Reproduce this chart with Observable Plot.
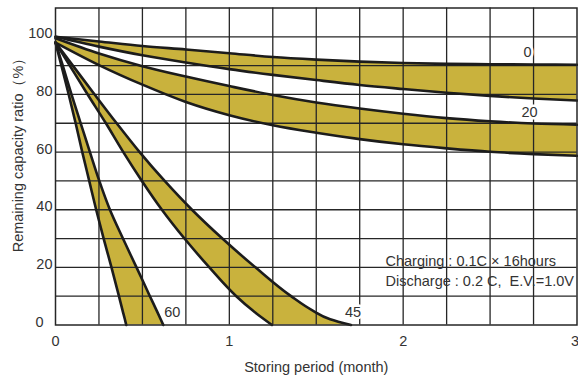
<!DOCTYPE html>
<html>
<head>
<meta charset="utf-8">
<script src="https://cdn.jsdelivr.net/npm/d3@7"></script>
<script src="https://cdn.jsdelivr.net/npm/@observablehq/plot@0.6"></script>
<style>
  html, body { margin: 0; padding: 0; background: #fff; }
  #chart svg { display: block; }
</style>
</head>
<body>
<div id="chart"></div>
<script>
// ---- data ----
const months = [0, 0.25, 0.5, 0.75, 1, 1.25, 1.5, 1.75, 2, 2.25, 2.5, 2.75, 3];
const band0Upper  = [100, 98.4, 96.8, 95.6, 94.3, 93.0, 92.1, 91.4, 90.9, 90.6, 90.5, 90.4, 90.3];
const band0Lower  = [100, 96.6, 93.6, 91.1, 88.8, 86.8, 85.0, 83.3, 81.9, 80.6, 79.5, 78.6, 77.9];
const band20Upper = [99.5, 94.2, 89.8, 86.2, 82.9, 79.8, 77.2, 75.1, 73.3, 71.8, 70.7, 69.9, 69.5];
const band20Lower = [98, 90.2, 83.4, 77.4, 72.8, 69.3, 66.7, 64.5, 62.7, 61.3, 60.1, 59.3, 58.7];

const levels      = [0, 2, 5, 10, 20, 30, 40, 50, 60, 70, 80, 90, 98];
const band60Left  = [0.407, 0.399, 0.386, 0.365, 0.322, 0.277, 0.234, 0.194, 0.154, 0.116, 0.076, 0.034, 0];
const band60Right = [0.62, 0.605, 0.582, 0.543, 0.466, 0.388, 0.313, 0.252, 0.198, 0.145, 0.092, 0.042, 0];
const band45Left  = [1.245, 1.2, 1.135, 1.04, 0.885, 0.742, 0.612, 0.497, 0.39, 0.29, 0.185, 0.082, 0];
const band45Right = [1.70, 1.58, 1.48, 1.355, 1.15, 0.96, 0.785, 0.628, 0.484, 0.352, 0.225, 0.1, 0];

const xGrid = [0.25, 0.5, 0.75, 1, 1.25, 1.5, 1.75, 2, 2.25, 2.5, 2.75];
const yGrid = [10, 20, 30, 40, 50, 60, 70, 80, 90, 100];
const xTicks = [0, 1, 2];
const xLastTick = [3];
const yTicks = [20, 40, 60, 80, 100];
const yZeroTick = [0];
const xTitle = "Storing period (month)";
const yTitle = "Remaining capacity ratio（%）";
const noteLines = ["Charging : 0.1C × 16hours", "Discharge : 0.2 C,  E.V.=1.0V"];

// ---- tables ----
const flat = months.map((m, i) => ({
  m, b0u: band0Upper[i], b0l: band0Lower[i], b20u: band20Upper[i], b20l: band20Lower[i]
}));
const steep = levels.map((v, i) => ({
  v, l60: band60Left[i], r60: band60Right[i], l45: band45Left[i], r45: band45Right[i]
}));
const last = months.length - 2;
const bandLabels = [
  {x: months[last], y: band0Upper[last], text: "0", dx: -6, dy: -12},
  {x: months[last], y: band20Upper[last], text: "20", dx: -4, dy: -11},
  {x: band60Right[0], y: levels[0], text: "60", dx: 9, dy: -13},
  {x: band45Right[0], y: levels[0], text: "45", dx: 2, dy: -13}
];

const FILL = "#c9b23d";
const INK = "#1c1c1c";
const GRID = "#262626";
const TXT = "#333";
const FONT = "Liberation Sans, Arial, Helvetica, sans-serif";

const curveStyle = {stroke: INK, strokeWidth: 2.6};

const chart = Plot.plot({
  width: 578,
  height: 380,
  marginLeft: 55,
  marginRight: 1.5,
  marginTop: 7.5,
  marginBottom: 55.5,
  style: {fontFamily: FONT, fontSize: "14.5px", color: TXT, background: "#fff"},
  x: {domain: [0, 3]},
  y: {domain: [0, 110]},
  marks: [
    // bands (fills)
    Plot.areaY(flat, {x: "m", y1: "b0l", y2: "b0u", fill: FILL, curve: "monotone-x"}),
    Plot.areaY(flat, {x: "m", y1: "b20l", y2: "b20u", fill: FILL, curve: "monotone-x"}),
    Plot.areaX(steep, {y: "v", x1: "l60", x2: "r60", fill: FILL, curve: "monotone-y"}),
    Plot.areaX(steep, {y: "v", x1: "l45", x2: "r45", fill: FILL, curve: "monotone-y"}),
    // grid
    Plot.ruleX(xGrid, {stroke: GRID, strokeWidth: 1.3}),
    Plot.ruleY(yGrid, {stroke: GRID, strokeWidth: 1.3}),
    // curves
    Plot.line(flat, {x: "m", y: "b0u", curve: "monotone-x", ...curveStyle}),
    Plot.line(flat, {x: "m", y: "b0l", curve: "monotone-x", ...curveStyle}),
    Plot.line(flat, {x: "m", y: "b20u", curve: "monotone-x", ...curveStyle}),
    Plot.line(flat, {x: "m", y: "b20l", curve: "monotone-x", ...curveStyle}),
    Plot.line(steep, {x: "l60", y: "v", curve: "monotone-y", ...curveStyle}),
    Plot.line(steep, {x: "r60", y: "v", curve: "monotone-y", ...curveStyle}),
    Plot.line(steep, {x: "l45", y: "v", curve: "monotone-y", ...curveStyle}),
    Plot.line(steep, {x: "r45", y: "v", curve: "monotone-y", ...curveStyle}),
    // band labels
    ...bandLabels.map(d => Plot.text([d], {
      x: "x", y: "y", text: "text", dx: d.dx, dy: d.dy,
      fill: TXT, stroke: "white", strokeWidth: 5, fontSize: 14.5
    })),
    // annotation
    Plot.text([noteLines.join("\n")], {
      frameAnchor: "bottom-right", text: d => d, textAnchor: "start", lineAnchor: "middle",
      lineHeight: 1.36, dx: -191.5, dy: -55, fill: TXT, fontSize: 14.5
    }),
    // frame
    Plot.frame({stroke: GRID, strokeWidth: 1.5}),
    // axes
    Plot.axisX(xTicks, {tickSize: 0, tickPadding: 11, label: null, tickFormat: d => String(d), fill: TXT}),
    Plot.axisX(xLastTick, {tickSize: 0, tickPadding: 11, dx: -2, label: null, tickFormat: d => String(d), fill: TXT}),
    Plot.axisY(yTicks, {tickSize: 0, tickPadding: 3, dy: -3, label: null, tickFormat: d => String(d), fill: TXT}),
    Plot.axisY(yZeroTick, {tickSize: 0, tickPadding: 12, dy: -3, label: null, tickFormat: d => String(d), fill: TXT}),
    // axis titles
    Plot.text([xTitle], {frameAnchor: "bottom", text: d => d, dy: 42, lineAnchor: "middle", fill: TXT, fontSize: 14.5}),
    Plot.text([yTitle], {frameAnchor: "left", text: d => d, rotate: -90, dx: -37, dy: -15,
      textAnchor: "middle", lineAnchor: "middle", fill: TXT, fontSize: 14.5})
  ]
});
document.getElementById("chart").append(chart);

// white background box behind the test-condition note (covers the grid, like the reference)
const noteText = Array.from(chart.querySelectorAll("text")).find(t => t.textContent.includes("Charging"));
if (noteText) {
  const g = noteText.parentNode;
  const bb = g.getBBox();
  const right = 578 - 1.5;
  const rect = document.createElementNS("http://www.w3.org/2000/svg", "rect");
  rect.setAttribute("x", bb.x - 4);
  rect.setAttribute("y", bb.y - 4);
  rect.setAttribute("width", right - (bb.x - 4));
  rect.setAttribute("height", bb.height + 6);
  rect.setAttribute("fill", "white");
  g.parentNode.insertBefore(rect, g);
}
</script>
</body>
</html>
